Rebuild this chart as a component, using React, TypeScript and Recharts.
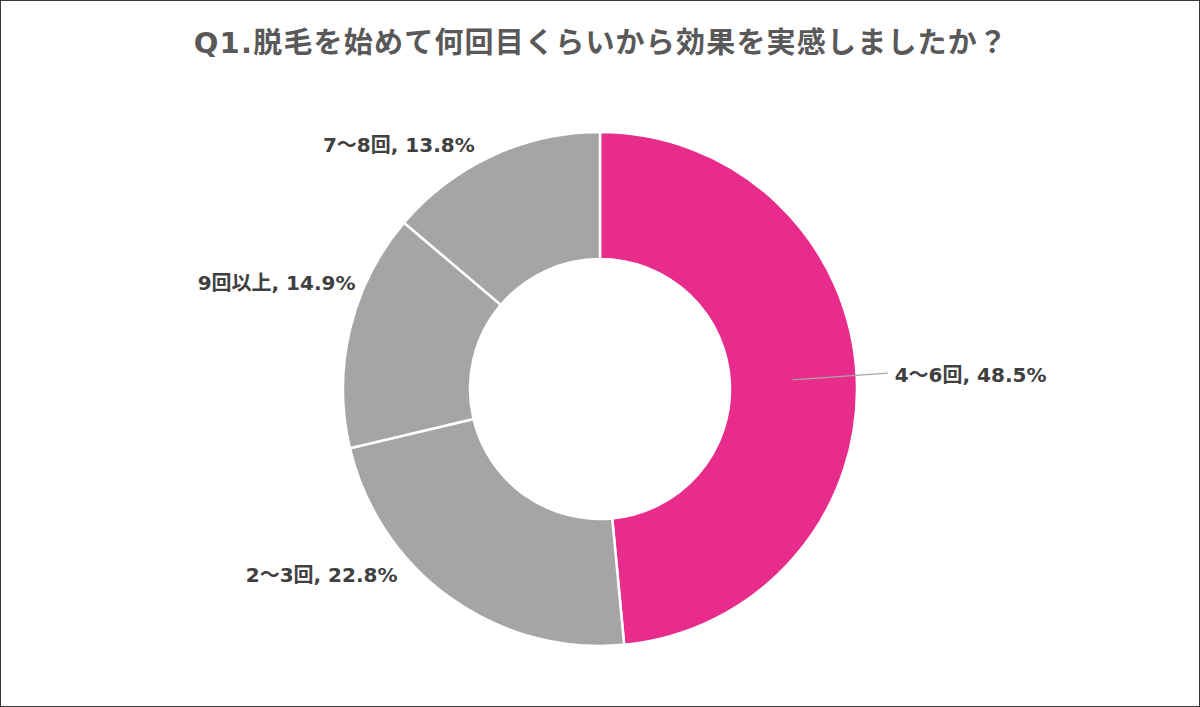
import { PieChart, Pie, Cell } from "recharts";

const TITLE = "Q1.脱毛を始めて何回目くらいから効果を実感しましたか？";
const categories = ["4～6回", "2～3回", "9回以上", "7～8回"];
const shares = [48.5, 22.8, 14.9, 13.8];
const sliceColors = ["#E82C8C", "#A5A5A5", "#A5A5A5", "#A5A5A5"];

const data = categories.map((name, i) => ({ name, value: shares[i] }));

// Excel "best fit" shifts the labels a bit off the mid-angle ray
const labelNudge: [number, number][] = [[16, -3], [-44, -35], [20, -43], [-11, 3]];

const RAD = Math.PI / 180;
const FONT = "'DejaVu Sans', 'Noto Sans CJK JP', sans-serif";

const renderLabel = (props: any) => {
  const { cx, cy, midAngle, outerRadius, index } = props;
  const cos = Math.cos(-midAngle * RAD);
  const sin = Math.sin(-midAngle * RAD);
  const r = outerRadius + 15;
  const px = cx + r * cos + labelNudge[index][0];
  const py = cy + r * sin + labelNudge[index][1];
  const right = cos >= 0;
  const text = `${categories[index]}, ${shares[index].toFixed(1)}%`;
  return (
    <g key={`lbl-${index}`}>
      {index === 0 && (
        <line
          x1={cx + outerRadius * 0.75 * cos}
          y1={cy + outerRadius * 0.75 * sin}
          x2={px}
          y2={py}
          stroke="#A6A6A6"
          strokeWidth={1.2}
        />
      )}
      <text
        x={right ? px + 7 : px}
        y={right ? py + 2 : py}
        textAnchor={right ? "start" : "end"}
        dominantBaseline="central"
        fill="#404040"
        fontSize={20}
        fontWeight={700}
        fontFamily={FONT}
      >
        {text}
      </text>
    </g>
  );
};

export default function App() {
  return (
    <div
      style={{
        position: "fixed",
        left: 0,
        top: 0,
        width: 1200,
        height: 707,
        boxSizing: "border-box",
        border: "1.5px solid #3a3a3a",
        background: "#fff",
        overflow: "hidden",
      }}
    >
      <div
        style={{
          position: "absolute",
          left: 0,
          top: 22,
          width: 1200,
          textAlign: "center",
          fontFamily: FONT,
          fontWeight: 700,
          fontSize: 29,
          letterSpacing: 1.2,
          color: "#595959",
          lineHeight: "40px",
        }}
      >
        {TITLE}
      </div>
      <div style={{ position: "absolute", left: -1.5, top: -1.5 }}>
        <PieChart width={1200} height={707} margin={{ top: 0, right: 0, bottom: 0, left: 0 }}>
          <Pie
            data={data}
            dataKey="value"
            nameKey="name"
            cx={600}
            cy={389}
            innerRadius={130}
            outerRadius={257}
            startAngle={90}
            endAngle={-270}
            stroke="#FFFFFF"
            strokeWidth={2.5}
            label={renderLabel}
            labelLine={false}
            isAnimationActive={false}
          >
            {data.map((_, i) => (
              <Cell key={i} fill={sliceColors[i]} />
            ))}
          </Pie>
        </PieChart>
      </div>
    </div>
  );
}
